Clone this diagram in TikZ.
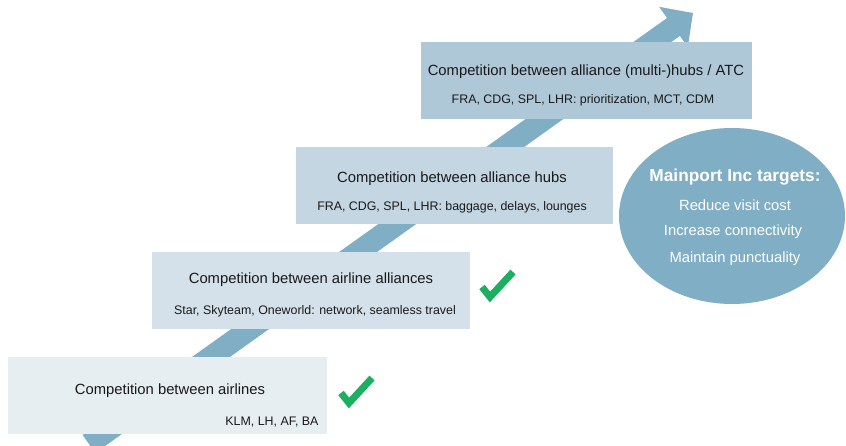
\documentclass[tikz,border=0pt]{standalone}
\usepackage{fontspec}
\setmainfont{Liberation Sans}
\usepackage{tikz}
\usetikzlibrary{arrows.meta,shapes.geometric}
\usepackage{xcolor}

\definecolor{stepA}{HTML}{E6EEF2}
\definecolor{stepB}{HTML}{D4E1EA}
\definecolor{stepC}{HTML}{C3D6E2}
\definecolor{stepD}{HTML}{AFC8D8}
\definecolor{steel}{HTML}{7FAEC5}
\definecolor{okgreen}{HTML}{1BAF5F}

\tikzset{
  stage/.style={rectangle,inner sep=0pt,minimum width=318pt,minimum height=77pt},
  headtxt/.style={font=\fontsize{14.8}{17}\selectfont,text=black!90},
  subtxt/.style={font=\fontsize{12.4}{14}\selectfont,text=black!90},
  goaltxt/.style={font=\fontsize{14.8}{17}\selectfont,text=white},
  tick/.pic={\draw[okgreen,line width=7pt] (-8,-10)--(0,0)--(23,-25);}
}

\begin{document}
\begin{tikzpicture}[x=1pt,y=-1pt]
\clip (0,0) rectangle (846,446);
% rising arrow behind the stages
\coordinate (tail) at (89,444);
\coordinate (tip) at (693,13);
\draw[steel,line width=22pt,-{Triangle[width=48pt,length=24pt]}] (tail)--(tip);
% the four stages
\node[stage,fill=stepA,minimum width=319pt] at (167.5,395.5) (airl) {};
\node[stage,fill=stepB] at (311,290.5) (alli) {};
\node[stage,fill=stepC,minimum width=317pt] at (454.5,185.5) (hubs) {};
\node[stage,fill=stepD,minimum width=331pt] at (586.5,80.5) (atc) {};
\node[headtxt] at (170,391) (airl-h) {Competition between airlines};
\node[subtxt,anchor=east] at (322,422) (airl-s) {KLM, LH, AF, BA};
\node[headtxt] at (311,280) (alli-h) {Competition between airline alliances};
\node[subtxt] at (315,311) (alli-s) {Star, Skyteam, Oneworld: network, seamless travel};
\node[headtxt] at (452,179) (hubs-h) {Competition between alliance hubs};
\node[subtxt] at (452,207) (hubs-s) {FRA, CDG, SPL, LHR: baggage, delays, lounges};
\node[headtxt] at (586,72) (atc-h) {Competition between alliance (multi-)hubs / ATC};
\node[subtxt] at (583,100) (atc-s) {FRA, CDG, SPL, LHR: prioritization, MCT, CDM};
% done so far
\pic at (349,403) {tick};
\pic at (490,297) {tick};
% targets
\node[ellipse,fill=steel,inner sep=0pt,minimum width=226pt,minimum height=176pt] at (732,216) (goal) {};
\node[goaltxt,font=\bfseries\fontsize{17.3}{20}\selectfont] at (735,177) (goal-h) {Mainport Inc targets:};
\node[goaltxt] at (735,205) (goal-a) {Reduce visit cost};
\node[goaltxt] at (733,232) (goal-b) {Increase connectivity};
\node[goaltxt] at (735,259) (goal-c) {Maintain punctuality};
\end{tikzpicture}
\end{document}
